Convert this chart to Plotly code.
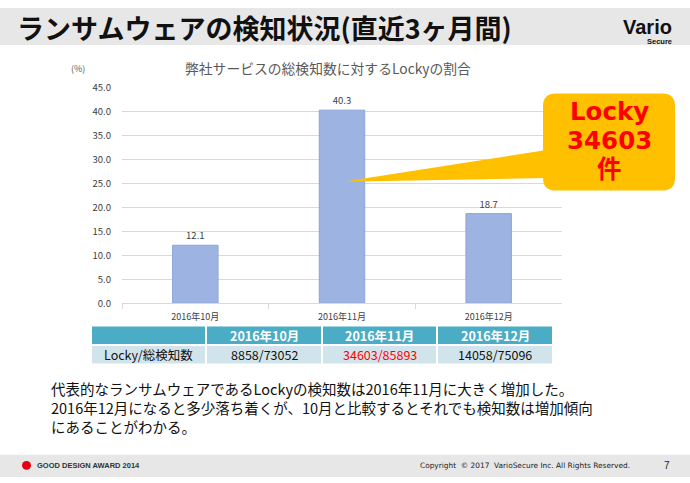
import plotly.graph_objects as go

W, H = 690, 483
FONT = "Noto Sans CJK JP"

# ---- data ----
months = ["2016年10月", "2016年11月", "2016年12月"]
ratio_pct = [12.1, 40.3, 18.7]
locky_counts = [8858, 34603, 14058]
total_counts = [73052, 85893, 75096]
row_label = "Locky/総検知数"
highlight_idx = 1

title_text = "ランサムウェアの検知状況(直近3ヶ月間)"
chart_title = "弊社サービスの総検知数に対するLockyの割合"
unit_label = "(%)"
body_lines = [
    "代表的なランサムウェアであるLockyの検知数は2016年11月に大きく増加した。",
    "2016年12月になると多少落ち着くが、10月と比較するとそれでも検知数は増加傾向",
    "にあることがわかる。",
]
footer_left = "GOOD DESIGN AWARD 2014"
footer_copy = "Copyright  © 2017  VarioSecure Inc. All Rights Reserved."
page_no = "7"


def px(x):
    return x / W


def py(y):
    return 1 - y / H


fig = go.Figure()
fig.add_trace(go.Bar(
    x=months, y=ratio_pct,
    marker=dict(color="#9DB3E1", line=dict(color="#8EA5D9", width=1)),
    text=[f"{v:.1f}" for v in ratio_pct], textposition="outside",
    textfont=dict(family=FONT, size=9.5, color="#404040"),
    cliponaxis=False, hoverinfo="skip",
))

shapes = []
ann = []

# title bar and footer bar
shapes.append(dict(type="rect", xref="paper", yref="paper", x0=0, x1=1, y0=py(38), y1=1,
                   fillcolor="#E7E7E7", line_width=0, layer="below"))
shapes.append(dict(type="rect", xref="paper", yref="paper", x0=0, x1=1, y0=0, y1=py(460),
                   fillcolor="#E7E7E7", line_width=0, layer="below"))

ann.append(dict(text="<b>" + title_text + "</b>", x=px(15), y=py(20), xanchor="left", yanchor="middle",
                font=dict(family=FONT, size=27, color="#111111")))
ann.append(dict(text="<b>Vario</b>", x=px(674), y=py(20), xanchor="right", yanchor="middle",
                font=dict(family="Liberation Sans", size=20, color="#111111")))
ann.append(dict(text="<b>Secure</b>", x=px(674), y=py(34), xanchor="right", yanchor="middle",
                font=dict(family="Liberation Sans", size=7.5, color="#111111")))

# chart title and unit
ann.append(dict(text=chart_title, x=px(328), y=py(62), xanchor="center", yanchor="middle",
                font=dict(family=FONT, size=13.8, color="#595959")))
ann.append(dict(text=unit_label, x=px(78), y=py(62), xanchor="center", yanchor="middle",
                font=dict(family=FONT, size=9, color="#595959")))

# table
cols = [(92, 205), (207, 321), (323, 436), (438, 552)]
hdr = (328, 346)
row = (348, 366)
for i, (a, b) in enumerate(cols):
    shapes.append(dict(type="rect", xref="paper", yref="paper", x0=px(a), x1=px(b), y0=py(hdr[1]), y1=py(hdr[0]),
                       fillcolor="#4BACC6", line_width=0))
    shapes.append(dict(type="rect", xref="paper", yref="paper", x0=px(a), x1=px(b), y0=py(row[1]), y1=py(row[0]),
                       fillcolor="#D2E4EB", line_width=0))
    cx = (a + b) / 2
    if i == 0:
        cell = row_label
        color = "#111111"
    else:
        k = i - 1
        ann.append(dict(text="<b>" + months[k] + "</b>", x=px(cx), y=py((hdr[0] + hdr[1]) / 2),
                        xanchor="center", yanchor="middle",
                        font=dict(family=FONT, size=12.5, color="white")))
        cell = f"{locky_counts[k]}/{total_counts[k]}"
        color = "#FF0000" if k == highlight_idx else "#111111"
    ann.append(dict(text=cell, x=px(cx), y=py((row[0] + row[1]) / 2), xanchor="center", yanchor="middle",
                    font=dict(family=FONT, size=12.5, color=color)))

# callout
def rrect(x0, y0, x1, y1, r):
    return (f"M {px(x0 + r)},{py(y0)} L {px(x1 - r)},{py(y0)} Q {px(x1)},{py(y0)} {px(x1)},{py(y0 + r)} "
            f"L {px(x1)},{py(y1 - r)} Q {px(x1)},{py(y1)} {px(x1 - r)},{py(y1)} "
            f"L {px(x0 + r)},{py(y1)} Q {px(x0)},{py(y1)} {px(x0)},{py(y1 - r)} "
            f"L {px(x0)},{py(y0 + r)} Q {px(x0)},{py(y0)} {px(x0 + r)},{py(y0)} Z")

shapes.append(dict(type="path", xref="paper", yref="paper",
                   path=f"M {px(343)},{py(179)} L {px(548)},{py(146)} L {px(548)},{py(175)} Z",
                   fillcolor="#FFC000", line_width=0))
shapes.append(dict(type="path", xref="paper", yref="paper", path=rrect(543, 88, 675, 188, 13),
                   fillcolor="#FFC000", line_width=0))
callout_lines = ["Locky", str(locky_counts[highlight_idx]), "件"]
for j, t in enumerate(callout_lines):
    ann.append(dict(text="<b>" + t + "</b>", x=px(609), y=py(107 + 29.5 * j), xanchor="center", yanchor="middle",
                    font=dict(family="DejaVu Sans, " + FONT, size=24.5, color="#FF0000")))

# body text
ann.append(dict(text="<br>".join(body_lines), x=px(49), y=py(379), xanchor="left", yanchor="top",
                align="left", font=dict(family=FONT, size=14.5, color="#111111")))

# footer
shapes.append(dict(type="circle", xref="paper", yref="paper", x0=px(22), x1=px(31), y0=py(475.5), y1=py(466.5),
                   fillcolor="#E60012", line_width=0))
ann.append(dict(text="<b>" + footer_left + "</b>", x=px(35), y=py(471), xanchor="left", yanchor="middle",
                font=dict(family="Liberation Sans Narrow, Liberation Sans", size=7.5, color="#333333")))
ann.append(dict(text=footer_copy, x=px(418), y=py(471), xanchor="left", yanchor="middle",
                font=dict(family="DejaVu Sans", size=7.4, color="#222222")))
ann.append(dict(text=page_no, x=px(667), y=py(471), xanchor="center", yanchor="middle",
                font=dict(family="Liberation Sans", size=10, color="#222222")))

for a in ann:
    a.update(xref="paper", yref="paper", showarrow=False)

fig.update_layout(
    width=W, height=H, autosize=False,
    margin=dict(l=0, r=0, t=0, b=0),
    paper_bgcolor="white", plot_bgcolor="white",
    showlegend=False, bargap=0.69,
    xaxis=dict(domain=[px(122), px(562)], type="category",
               showline=True, linecolor="#D9D9D9", linewidth=1,
               ticks="outside", tickson="boundaries", ticklen=5, tickcolor="#D9D9D9",
               ticklabelstandoff=5,
               tickfont=dict(family=FONT, size=9, color="#404040"), showgrid=False),
    yaxis=dict(domain=[py(304), py(82)], range=[0, 45], dtick=5, tickformat=".1f",
               showgrid=True, gridcolor="#D9D9D9", gridwidth=1, zeroline=False,
               ticklabelstandoff=10,
               tickfont=dict(family=FONT, size=9.5, color="#404040")),
    shapes=shapes, annotations=ann,
)

fig.write_html("out.html", config={"displayModeBar": False},
               post_script="document.body.style.margin='0';document.body.style.padding='0';"
                           "document.documentElement.style.overflow='hidden';")
